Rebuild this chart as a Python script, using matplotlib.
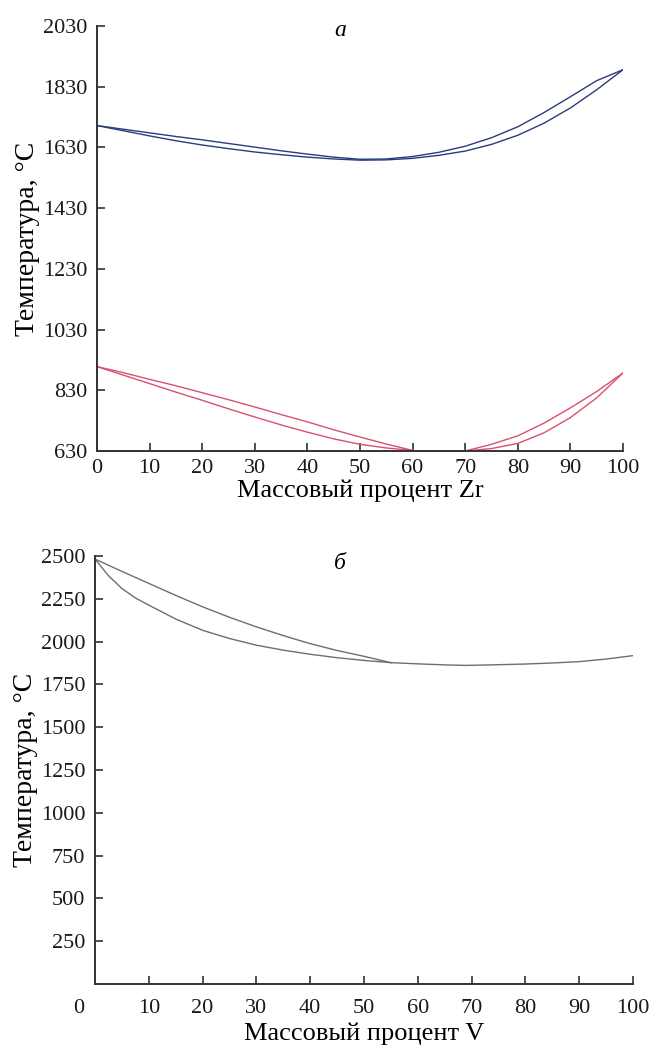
import matplotlib
matplotlib.use("Agg")
import matplotlib.pyplot as plt

plt.rcParams['font.family'] = ['Liberation Serif', 'DejaVu Serif']

# ---- data: panel a (Zr) ----
zr_x = [0, 5, 10, 15, 20, 25, 30, 35, 40, 45, 50, 55, 60, 65, 70, 75, 80, 85, 90, 95, 100]
zr_liq = [1702, 1690, 1678, 1666, 1655, 1643, 1631, 1619, 1608, 1598, 1591, 1592, 1600, 1614, 1634, 1662, 1698, 1745, 1797, 1850, 1886]
zr_sol = [1702, 1685, 1668, 1652, 1638, 1626, 1615, 1606, 1598, 1592, 1588, 1589, 1594, 1604, 1618, 1640, 1670, 1710, 1760, 1820, 1886]

red_x1 = [0, 5, 10, 15, 20, 25, 30, 35, 40, 45, 50, 55, 60]
red_up1 = [908, 888, 866, 845, 822, 799, 775, 750, 726, 700, 676, 653, 632]
red_lo1 = [908, 880, 852, 824, 797, 769, 742, 716, 692, 670, 652, 640, 632]
red_x2 = [70, 75, 80, 85, 90, 95, 100]
red_up2 = [630, 652, 680, 722, 772, 826, 887]
red_lo2 = [630, 638, 655, 690, 740, 805, 887]

zr_yticks = [630, 830, 1030, 1230, 1430, 1630, 1830, 2030]
zr_xticks = [0, 10, 20, 30, 40, 50, 60, 70, 80, 90, 100]

# ---- data: panel б (V) ----
v_x_up = [0, 5, 10, 15, 20, 25, 30, 35, 40, 45, 50, 55]
v_up = [2482, 2410, 2340, 2270, 2203, 2142, 2086, 2035, 1988, 1948, 1914, 1877]
v_x_lo = [0, 2.5, 5, 7.5, 10, 15, 20, 25, 30, 35, 40, 45, 50, 55]
v_lo = [2482, 2385, 2310, 2255, 2213, 2132, 2066, 2018, 1979, 1950, 1926, 1906, 1890, 1877]
v_x_tail = [55, 60, 65, 69, 75, 80, 85, 90, 95, 100]
v_tail = [1877, 1870, 1864, 1861, 1865, 1869, 1875, 1883, 1898, 1918]

v_yticks = [250, 500, 750, 1000, 1250, 1500, 1750, 2000, 2250, 2500]
v_xticks = [10, 20, 30, 40, 50, 60, 70, 80, 90, 100]

blue = '#2c3b7c'
red = '#d9506f'
gray = '#6e6e6e'
axcol = '#333333'
tfs = 16
xlfs = 19
ylfs = 20

fig = plt.figure(figsize=(6.49, 10.47), dpi=100)
W, H = 649, 1047

def ax_rect(l, r, b, t):
    return [l / W, 1 - b / H, (r - l) / W, (b - t) / H]

def style(ax, pad):
    for s in ['top', 'right']:
        ax.spines[s].set_visible(False)
    for s in ['left', 'bottom']:
        ax.spines[s].set_color(axcol)
        ax.spines[s].set_linewidth(1.4)
    ax.tick_params(direction='in', length=6, width=1.2, color=axcol,
                   labelsize=tfs, labelcolor='#1a1a1a')
    ax.tick_params(axis='x', pad=pad)
    ax.tick_params(axis='y', pad=7)

lw = 1.0

# panel a
ax1 = fig.add_axes(ax_rect(97, 623, 451, 26))
ax1.plot(zr_x, zr_liq, color=blue, lw=lw)
ax1.plot(zr_x, zr_sol, color=blue, lw=lw)
ax1.plot(red_x1, red_up1, color=red, lw=lw)
ax1.plot(red_x1, red_lo1, color=red, lw=lw)
ax1.plot(red_x2, red_up2, color=red, lw=lw)
ax1.plot(red_x2, red_lo2, color=red, lw=lw)
ax1.set_xlim(0, 100)
ax1.set_ylim(630, 2030)
ax1.set_xticks(zr_xticks)
ax1.set_yticks(zr_yticks)
style(ax1, 6)
ax1.set_xlabel('Массовый процент Zr', fontsize=xlfs, labelpad=1)
ax1.set_ylabel('Температура, °C', fontsize=ylfs, labelpad=2)
ax1.text(0.462, 0.99, 'а', transform=ax1.transAxes, fontsize=17,
         style='italic', ha='center', va='center')

# panel б
ax2 = fig.add_axes(ax_rect(95, 633, 984, 556))
ax2.plot(v_x_up, v_up, color=gray, lw=lw)
ax2.plot(v_x_lo, v_lo, color=gray, lw=lw)
ax2.plot(v_x_tail, v_tail, color=gray, lw=lw)
ax2.set_xlim(0, 100)
ax2.set_ylim(0, 2500)
ax2.set_xticks(v_xticks)
ax2.set_yticks(v_yticks)
style(ax2, 11)
ax2.annotate('0', xy=(0, 0), xycoords=('data', 'axes fraction'),
             xytext=(-12, -11), textcoords='offset points',
             ha='center', va='top', fontsize=tfs, color='#1a1a1a')
ax2.set_xlabel('Массовый процент V', fontsize=xlfs, labelpad=3)
ax2.set_ylabel('Температура, °C', fontsize=ylfs, labelpad=2)
ax2.text(0.455, 0.983, 'б', transform=ax2.transAxes, fontsize=17,
         style='italic', ha='center', va='center')

fig.savefig('out.png', dpi=100)
